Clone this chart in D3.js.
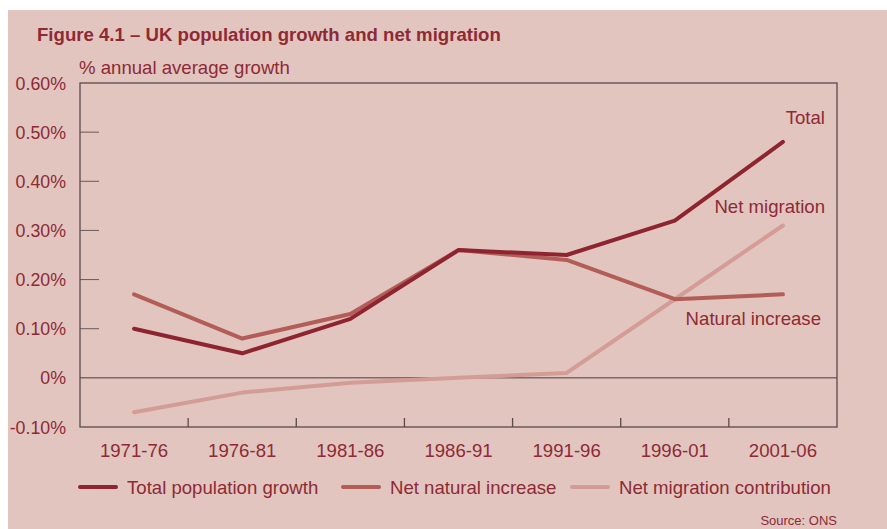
<!DOCTYPE html>
<html>
<head>
<meta charset="utf-8">
<script src="https://cdn.jsdelivr.net/npm/d3@7"></script>
<style>
  body { margin: 0; background: #fff; }
  svg text { font-family: "Liberation Sans", Arial, sans-serif; }
</style>
</head>
<body>
<svg id="chart" width="887" height="529"></svg>
<script>
const periods = ["1971-76", "1976-81", "1981-86", "1986-91", "1991-96", "1996-01", "2001-06"];
const totalGrowth = [0.10, 0.05, 0.12, 0.26, 0.25, 0.32, 0.48];
const naturalIncrease = [0.17, 0.08, 0.13, 0.26, 0.24, 0.16, 0.17];
const netMigration = [-0.07, -0.03, -0.01, 0.0, 0.01, 0.16, 0.31];
const yTicks = [-0.1, 0, 0.1, 0.2, 0.3, 0.4, 0.5, 0.6];

const TEXT = "#8e2a35";
const BG = "#e2c5bf";
const FS = 18.6;

const series = [
  { name: "Total population growth", label: "Total", values: totalGrowth, color: "#8e2430", labelY: 124 },
  { name: "Net natural increase", label: "Natural increase", values: naturalIncrease, color: "#b25d58", labelY: 325 },
  { name: "Net migration contribution", label: "Net migration", values: netMigration, color: "#d49c96", labelY: 213 },
];

const svg = d3.select("#chart");
const width = +svg.attr("width");
const height = +svg.attr("height");

svg.append("rect").attr("x", 8).attr("y", 10)
  .attr("width", width - 8).attr("height", height - 10).attr("fill", BG);

const plot = { left: 80, right: 837, top: 83, bottom: 427 };

const x = d3.scaleBand(periods, [plot.left, plot.right]);
const y = d3.scaleLinear([-0.1, 0.6], [plot.bottom, plot.top]);

// title and axis caption
svg.append("text").attr("x", 37).attr("y", 41)
  .attr("fill", TEXT).attr("font-size", 18.6).attr("font-weight", "bold")
  .text("Figure 4.1 – UK population growth and net migration");
svg.append("text").attr("x", 79).attr("y", 74)
  .attr("fill", TEXT).attr("font-size", FS)
  .text("% annual average growth");

// y ticks (inside) and labels
svg.append("g").selectAll("line")
  .data(yTicks.filter((t) => t > 0 && t < 0.6))
  .join("line")
  .attr("x1", plot.left).attr("x2", plot.left + 19)
  .attr("y1", (d) => y(d)).attr("y2", (d) => y(d))
  .attr("stroke", "#6b5a5a").attr("stroke-width", 1);

svg.append("g").selectAll("text")
  .data(yTicks)
  .join("text")
  .attr("x", 66).attr("y", (d) => y(d) + 6.5)
  .attr("text-anchor", "end")
  .attr("fill", TEXT).attr("font-size", 17.8)
  .text((d) => (d === 0 ? "0%" : d3.format(".2f")(d).replace("−", "-") + "%"));

// zero line
svg.append("line")
  .attr("x1", plot.left).attr("x2", plot.right)
  .attr("y1", y(0)).attr("y2", y(0))
  .attr("stroke", "#4a3a3a").attr("stroke-width", 1);

// x ticks at category boundaries
svg.append("g").selectAll("line")
  .data(periods.slice(1))
  .join("line")
  .attr("x1", (d) => x(d)).attr("x2", (d) => x(d))
  .attr("y1", plot.bottom).attr("y2", plot.bottom - 9)
  .attr("stroke", "#5a4a4a").attr("stroke-width", 1.3);

svg.append("g").selectAll("text")
  .data(periods)
  .join("text")
  .attr("x", (d) => x(d) + x.bandwidth() / 2).attr("y", 457)
  .attr("text-anchor", "middle")
  .attr("fill", TEXT).attr("font-size", FS)
  .text((d) => d);

// frame
svg.append("rect")
  .attr("x", plot.left).attr("y", plot.top)
  .attr("width", plot.right - plot.left).attr("height", plot.bottom - plot.top)
  .attr("fill", "none").attr("stroke", "#5a4a4a").attr("stroke-width", 1.3);

// lines (migration under, total on top)
const line = d3.line()
  .x((d, i) => x(periods[i]) + x.bandwidth() / 2)
  .y((d) => y(d));

svg.append("g").selectAll("path")
  .data(series.slice().reverse())
  .join("path")
  .attr("d", (s) => line(s.values))
  .attr("fill", "none")
  .attr("stroke", (s) => s.color)
  .attr("stroke-width", 4)
  .attr("stroke-linecap", "round")
  .attr("stroke-linejoin", "round");

// direct labels
svg.append("g").selectAll("text")
  .data(series)
  .join("text")
  .attr("x", (s) => (s.label === "Natural increase" ? 821 : 825))
  .attr("y", (s) => s.labelY)
  .attr("text-anchor", "end")
  .attr("fill", TEXT).attr("font-size", FS)
  .text((s) => s.label);

// legend
const legendX = [80, 343, 572];
const legend = svg.append("g").selectAll("g")
  .data(series)
  .join("g")
  .attr("transform", (s, i) => `translate(${legendX[i]},487)`);
legend.append("line")
  .attr("x1", 0).attr("x2", 36)
  .attr("stroke", (s) => s.color).attr("stroke-width", 4)
  .attr("stroke-linecap", "round");
legend.append("text")
  .attr("x", 47).attr("y", 6.5)
  .attr("fill", TEXT).attr("font-size", FS)
  .text((s) => s.name);

svg.append("text").attr("x", 837).attr("y", 525)
  .attr("text-anchor", "end")
  .attr("fill", TEXT).attr("font-size", 13)
  .text("Source: ONS");
</script>
</body>
</html>
